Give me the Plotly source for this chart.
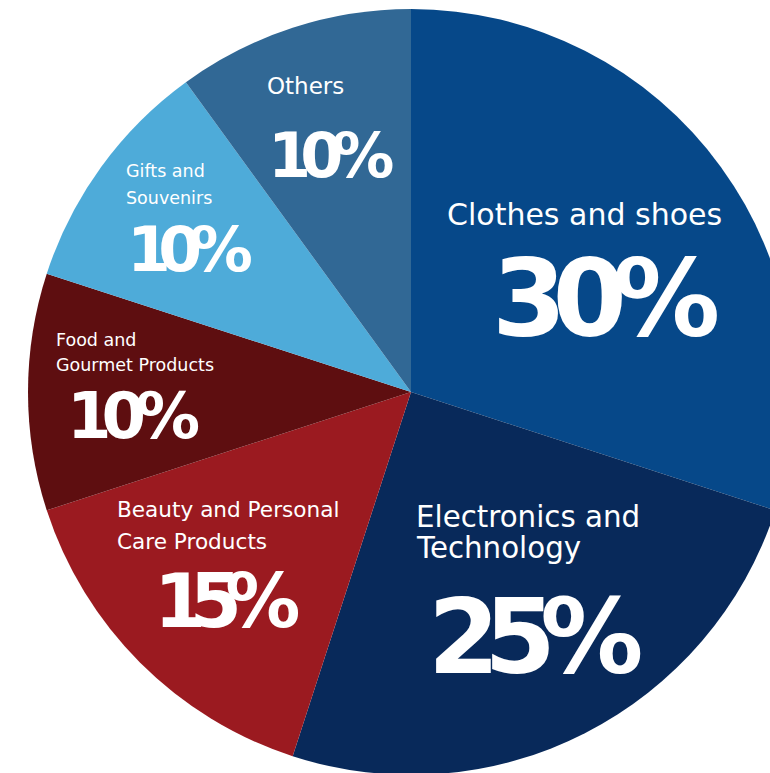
import plotly.graph_objects as go

categories = ["Clothes and shoes", "Electronics and Technology", "Beauty and Personal Care Products",
              "Food and Gourmet Products", "Gifts and Souvenirs", "Others"]
shares = [30, 25, 15, 10, 10, 10]
colors = ["#064889", "#08295a", "#9b1a20", "#5e0e10", "#4eabd9", "#316895"]
label_lines = [["Clothes and shoes"], ["Electronics and", "Technology"], ["Beauty and Personal", "Care Products"],
               ["Food and", "Gourmet Products"], ["Gifts and", "Souvenirs"], ["Others"]]

W, H = 800, 776
OFF = 0  # page offset of the plot div (body margin removed below)
CX, CY, R = 411, 392, 383

fig = go.Figure(go.Pie(
    labels=categories, values=shares, sort=False, direction="clockwise", rotation=0,
    marker=dict(colors=colors, line=dict(width=0)), textinfo="none", hoverinfo="label+percent",
    showlegend=False,
    domain=dict(x=[(CX - OFF - R) / W, (CX - OFF + R) / W],
                y=[1 - (CY - OFF + R) / H, 1 - (CY - OFF - R) / H]),
))

def px2paper(x, y):
    return (x - OFF) / W, 1 - (y - OFF) / H

annots = []
def add_text(text, left, baseline, size, bold=False, spacing=None):
    fam = "DejaVu Sans"
    t = text
    if spacing is not None:
        t = f'<span style="letter-spacing:{spacing}px">{text}</span>'
    if bold:
        t = f"<b>{t}</b>"
    xp, yp = px2paper(left - 1, baseline - 0.346 * size)
    annots.append(dict(text=t, x=xp, y=yp, xref="paper", yref="paper", xanchor="left", yanchor="middle",
                       showarrow=False, font=dict(family=fam, size=size, color="white"), align="left"))

# category labels (left x, first baseline, line step, size)
label_layout = [(446, 225, 0, 30), (415, 527, 31, 29.3), (116, 517, 31.5, 21.6),
                (55, 346, 24.7, 17.5), (125, 177, 27.3, 17.5), (266, 94, 0, 23)]
for lines, (lx, by, step, sz) in zip(label_lines, label_layout):
    for i, ln in enumerate(lines):
        add_text(ln, lx, by + i * step, sz)

# percentage labels (left x, baseline, size, letter spacing)
pct_layout = [(491, 335, 107, -14), (427, 673, 103, -15.5), (153, 627, 75, -16.5),
              (66, 438, 64, -10), (126, 271, 63, -12.5), (267, 177, 62, -11)]
for v, (lx, by, sz, sp) in zip(shares, pct_layout):
    add_text(f"{v}%", lx, by, sz, bold=True, spacing=sp)

fig.update_layout(width=W, height=H, margin=dict(l=0, r=0, t=0, b=0),
                  paper_bgcolor="white", plot_bgcolor="white", annotations=annots)
fig.write_html("out.html", config={"displayModeBar": False},
               post_script="document.body.style.margin='0';document.body.style.overflow='hidden';"
                           "document.documentElement.style.overflow='hidden';")
